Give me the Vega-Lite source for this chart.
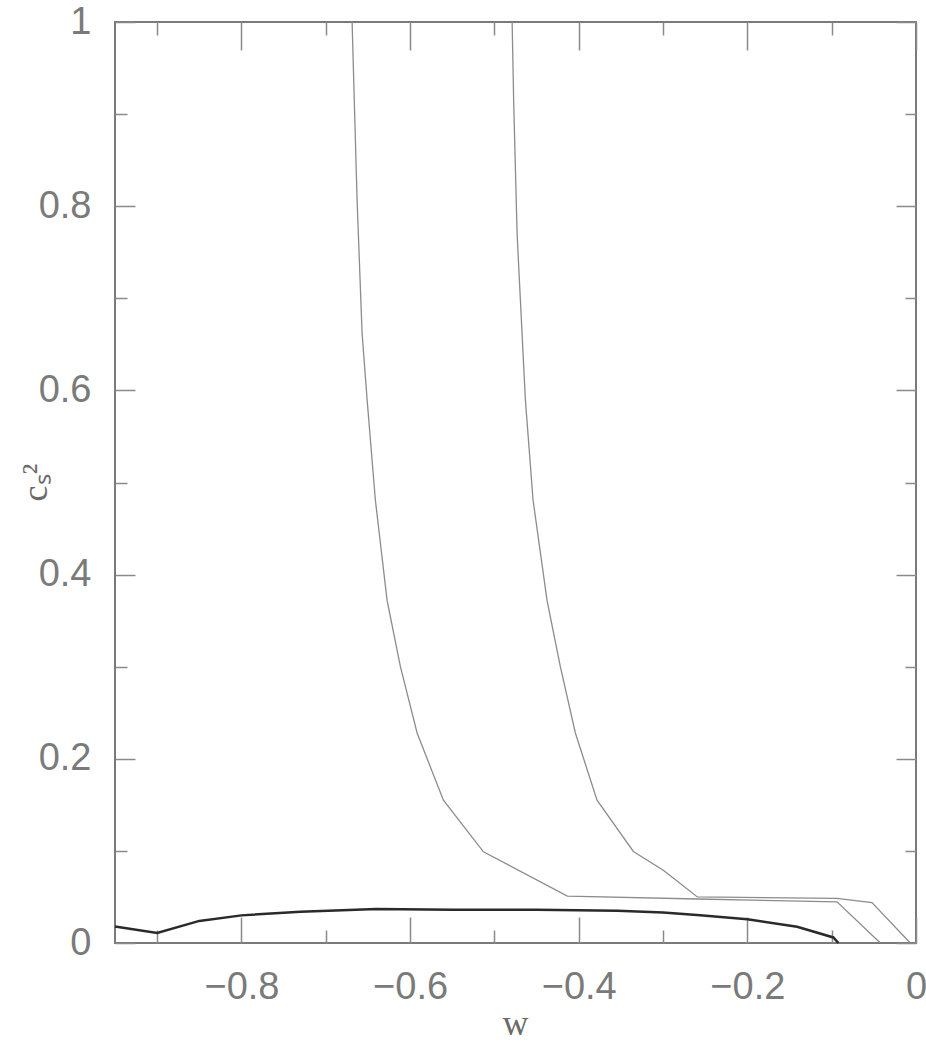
{
  "$schema": "https://vega.github.io/schema/vega-lite/v6.json",
  "width": 801,
  "height": 921,
  "autosize": {"type": "none"},
  "padding": {"left": 115, "top": 22, "right": 10, "bottom": 102},
  "background": "white",
  "config": {
    "view": {"stroke": "#7a7a7a", "strokeWidth": 2},
    "axis": {
      "domain": false,
      "grid": false,
      "tickColor": "#8a8a8a",
      "tickWidth": 1.5,
      "labelFont": "Liberation Sans",
      "labelFontSize": 38,
      "labelColor": "#7a7a7a",
      "labelFlush": false,
      "labelOverlap": false,
      "titleFont": "Liberation Serif",
      "titleFontWeight": "normal",
      "titleColor": "#6a6a6a"
    }
  },
  "data": {
    "values": [
      {"series": "C", "w": -0.95, "cs2": 0.018},
      {"series": "C", "w": -0.9, "cs2": 0.011},
      {"series": "C", "w": -0.85, "cs2": 0.024},
      {"series": "C", "w": -0.8, "cs2": 0.030},
      {"series": "C", "w": -0.73, "cs2": 0.034},
      {"series": "C", "w": -0.64, "cs2": 0.037},
      {"series": "C", "w": -0.55, "cs2": 0.036},
      {"series": "C", "w": -0.45, "cs2": 0.036},
      {"series": "C", "w": -0.354, "cs2": 0.035},
      {"series": "C", "w": -0.3, "cs2": 0.033},
      {"series": "C", "w": -0.256, "cs2": 0.030},
      {"series": "C", "w": -0.2, "cs2": 0.0257},
      {"series": "C", "w": -0.141, "cs2": 0.0177},
      {"series": "C", "w": -0.098, "cs2": 0.006},
      {"series": "C", "w": -0.092, "cs2": 0},
      {"series": "A", "w": -0.6688, "cs2": 1.0},
      {"series": "A", "w": -0.6629, "cs2": 0.807},
      {"series": "A", "w": -0.657, "cs2": 0.663},
      {"series": "A", "w": -0.651, "cs2": 0.59},
      {"series": "A", "w": -0.6412, "cs2": 0.481},
      {"series": "A", "w": -0.6273, "cs2": 0.372},
      {"series": "A", "w": -0.6115, "cs2": 0.300},
      {"series": "A", "w": -0.5917, "cs2": 0.228},
      {"series": "A", "w": -0.5605, "cs2": 0.155},
      {"series": "A", "w": -0.513, "cs2": 0.099},
      {"series": "A", "w": -0.4135, "cs2": 0.051},
      {"series": "A", "w": -0.2593, "cs2": 0.0478},
      {"series": "A", "w": -0.0937, "cs2": 0.0447},
      {"series": "A", "w": -0.0423, "cs2": 0},
      {"series": "B", "w": -0.479, "cs2": 1.0},
      {"series": "B", "w": -0.4772, "cs2": 0.915},
      {"series": "B", "w": -0.4731, "cs2": 0.77},
      {"series": "B", "w": -0.4692, "cs2": 0.698},
      {"series": "B", "w": -0.4633, "cs2": 0.59},
      {"series": "B", "w": -0.4542, "cs2": 0.481},
      {"series": "B", "w": -0.4376, "cs2": 0.372},
      {"series": "B", "w": -0.4218, "cs2": 0.300},
      {"series": "B", "w": -0.404, "cs2": 0.228},
      {"series": "B", "w": -0.3783, "cs2": 0.155},
      {"series": "B", "w": -0.3352, "cs2": 0.0994},
      {"series": "B", "w": -0.2997, "cs2": 0.079},
      {"series": "B", "w": -0.2593, "cs2": 0.050},
      {"series": "B", "w": -0.0937, "cs2": 0.0485},
      {"series": "B", "w": -0.0522, "cs2": 0.0438},
      {"series": "B", "w": -0.0068, "cs2": 0}
    ]
  },
  "layer": [
    {
      "transform": [{"filter": "datum.series != 'C'"}],
      "mark": {"type": "line", "color": "#8c8c8c", "strokeWidth": 1.3},
      "encoding": {
        "x": {
          "field": "w", "type": "quantitative",
          "scale": {"domain": [-0.95, 0], "nice": false, "zero": false},
          "axis": {
            "orient": "top",
            "values": [-0.9, -0.8, -0.7, -0.6, -0.5, -0.4, -0.3, -0.2, -0.1, 0],
            "tickSize": {"condition": {"test": "abs(round(datum.value*10)) % 2 == 0", "value": -28}, "value": -13},
            "labels": false,
            "title": null
          }
        },
        "y": {
          "field": "cs2", "type": "quantitative",
          "scale": {"domain": [0, 1], "nice": false},
          "axis": {
            "orient": "right",
            "values": [0, 0.1, 0.2, 0.3, 0.4, 0.5, 0.6, 0.7, 0.8, 0.9, 1],
            "tickSize": {"condition": {"test": "abs(round(datum.value*10)) % 2 == 0", "value": -20}, "value": -11},
            "labels": false,
            "title": null
          }
        },
        "detail": {"field": "series"}
      }
    },
    {
      "transform": [{"filter": "datum.series == 'C'"}],
      "mark": {"type": "line", "color": "#2a2a2a", "strokeWidth": 2.5},
      "encoding": {
        "x": {
          "field": "w", "type": "quantitative",
          "axis": {
            "orient": "bottom",
            "values": [-0.9, -0.8, -0.7, -0.6, -0.5, -0.4, -0.3, -0.2, -0.1, 0],
            "tickSize": {"condition": {"test": "abs(round(datum.value*10)) % 2 == 0", "value": -26}, "value": -13},
            "labelExpr": "abs(round(datum.value*10)) % 2 == 0 ? format(datum.value, '~g') : ''",
            "labelPadding": 51,
            "title": "w",
            "titleFontSize": 36,
            "titleX": 400,
            "titleY": 91,
            "titleBaseline": "alphabetic"
          }
        },
        "y": {
          "field": "cs2", "type": "quantitative",
          "axis": {
            "orient": "left",
            "values": [0, 0.1, 0.2, 0.3, 0.4, 0.5, 0.6, 0.7, 0.8, 0.9, 1],
            "tickSize": {"condition": {"test": "abs(round(datum.value*10)) % 2 == 0", "value": -20}, "value": -12},
            "labelExpr": "abs(round(datum.value*10)) % 2 == 0 ? format(datum.value, '~g') : ''",
            "labelPadding": 44,
            "title": "cₛ²",
            "titleFontSize": 36,
            "titleX": -80,
            "titleY": 460,
            "titleBaseline": "middle"
          }
        }
      }
    }
  ],
  "resolve": {"axis": {"x": "independent", "y": "independent"}}
}
